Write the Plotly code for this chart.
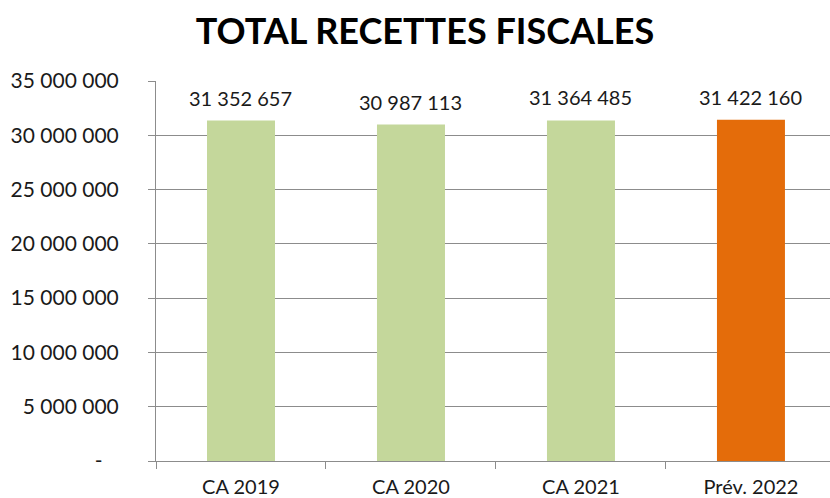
import plotly.graph_objects as go

# Recettes fiscales par exercice
categories = ["CA 2019", "CA 2020", "CA 2021", "Prév. 2022"]
values = [31352657, 30987113, 31364485, 31422160]
bar_colors = ["#C4D79B", "#C4D79B", "#C4D79B", "#E46C0A"]
y_ticks = [0, 5000000, 10000000, 15000000, 20000000, 25000000, 30000000, 35000000]


def fmt(v):
    # thousands separated by spaces, zero shown as a dash
    if v == 0:
        return "-\u00a0\u00a0\u00a0"
    return f"{v:,}".replace(",", " ")


FONT = "Lato"
TEXT = "#1a1a1a"
GRID = "#8c8c8c"

fig = go.Figure()
fig.add_trace(go.Bar(
    x=categories,
    y=values,
    marker=dict(color=bar_colors, line=dict(width=0)),
    width=0.4,
    hoverinfo="skip",
))

for c, v in zip(categories, values):
    fig.add_annotation(
        x=c, y=v, text=fmt(v), showarrow=False,
        yanchor="bottom", yshift=9,
        font=dict(family=FONT, size=20, color=TEXT),
    )

fig.update_layout(
    width=830, height=498,
    margin=dict(l=156, r=0, t=81, b=37),
    paper_bgcolor="white", plot_bgcolor="white",
    showlegend=False,
    bargap=0.6,
    title=dict(
        text="<b>TOTAL RECETTES FISCALES</b>",
        x=425 / 830, xanchor="center", xref="container",
        y=1 - 31 / 498, yanchor="middle", yref="container",
        font=dict(family=FONT, size=36, color="#000000"),
    ),
    font=dict(family=FONT, size=20, color=TEXT),
)

fig.update_xaxes(
    range=[-0.5, 3.465],
    showline=True, linecolor=GRID, linewidth=1,
    ticks="outside", tickson="boundaries", ticklen=7, tickcolor=GRID,
    showgrid=False,
    tickfont=dict(family=FONT, size=20, color=TEXT),
    ticklabelstandoff=8,
)

fig.update_yaxes(
    range=[0, 35000000],
    tickvals=y_ticks,
    ticktext=[fmt(v) for v in y_ticks],
    showline=True, linecolor=GRID, linewidth=1,
    ticks="outside", ticklen=7, tickcolor=GRID,
    showgrid=True, gridcolor=GRID, gridwidth=1,
    zeroline=False,
    tickfont=dict(family=FONT, size=21, color=TEXT),
    ticklabelstandoff=25,
)

fig.write_html("out.html")
